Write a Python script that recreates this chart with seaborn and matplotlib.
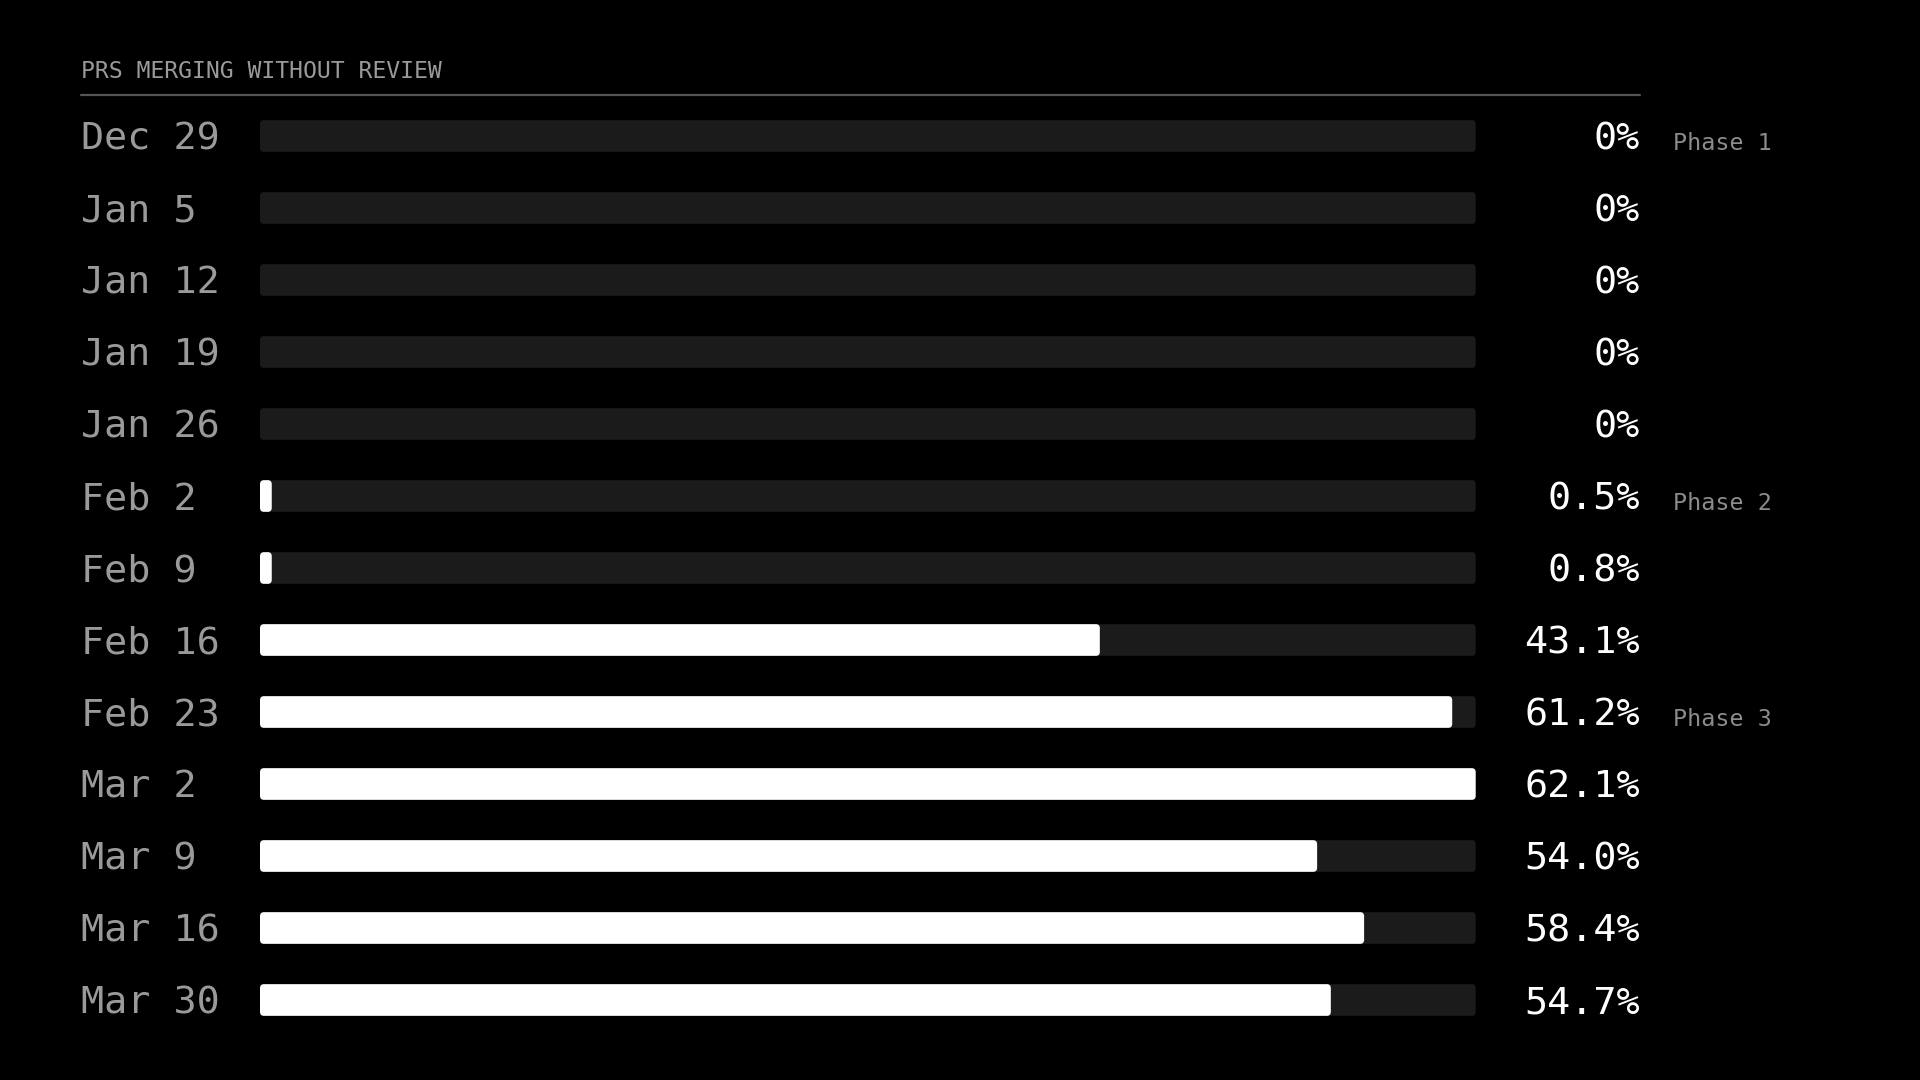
import matplotlib
matplotlib.use("Agg")
import matplotlib.pyplot as plt
import matplotlib.transforms as mtransforms
from matplotlib.patches import FancyBboxPatch
import seaborn as sns
import pandas as pd

# Data
weeks = ["Dec 29", "Jan 5", "Jan 12", "Jan 19", "Jan 26", "Feb 2", "Feb 9",
         "Feb 16", "Feb 23", "Mar 2", "Mar 9", "Mar 16", "Mar 30"]
# printed percentages
value_labels = ["0%", "0%", "0%", "0%", "0%", "0.5%", "0.8%",
                "43.1%", "61.2%", "62.1%", "54.0%", "58.4%", "54.7%"]
# bar lengths as drawn (tiny bars have a minimum width, Mar 16 is drawn shorter)
bar_len = [0, 0, 0, 0, 0, 0.6, 0.6, 42.9, 60.9, 62.1, 54.0, 56.4, 54.7]
scale_max = 62.1
phase_names = ["Phase 1", "Phase 2", "Phase 3"]
phase_weeks = ["Dec 29", "Feb 2", "Feb 23"]

BG = "#000000"
TRACK = "#1b1b1b"
LABEL_GREY = "#9a9a9a"
PHASE_GREY = "#8c8c8c"
MONO = ["DejaVu Sans Mono"]


def round_bars(ax, patches, radius_px=4):
    # swap seaborn's rectangles for rounded ones at the same coordinates
    fig = ax.figure
    fig.canvas.draw()
    bbox = ax.get_window_extent()
    x0, x1 = ax.get_xlim()
    y0, y1 = ax.get_ylim()
    px_per_x = bbox.width / (x1 - x0)
    px_per_y = bbox.height / abs(y1 - y0)
    r = radius_px / px_per_x
    aspect = px_per_x / px_per_y
    for p in patches:
        w = p.get_width()
        p.remove()
        if w <= 0:
            continue
        fb = FancyBboxPatch((p.get_x(), p.get_y()), w, p.get_height(),
                            boxstyle=f"round,pad=0,rounding_size={min(r, w / 2)}",
                            mutation_aspect=aspect, facecolor=p.get_facecolor(),
                            edgecolor="none", linewidth=0)
        ax.add_patch(fb)


def main():
    sns.set_theme(style="white", rc={"axes.facecolor": BG, "figure.facecolor": BG})
    plt.rcParams["font.family"] = MONO

    df = pd.DataFrame({"week": weeks, "bar": bar_len})
    df["track"] = scale_max

    fig = plt.figure(figsize=(19.2, 10.8), dpi=100)
    fig.patch.set_facecolor(BG)
    ax = fig.add_axes([260 / 1920, 1 - 1036 / 1080, (1475.7 - 260) / 1920, 936 / 1080])

    sns.barplot(data=df, x="track", y="week", color=TRACK, width=0.44,
                orient="h", ax=ax, saturation=1)
    n_track = len(ax.patches)
    sns.barplot(data=df, x="bar", y="week", color="white", width=0.44,
                orient="h", ax=ax, saturation=1)

    ax.set_xlim(0, scale_max)
    ax.set_ylim(len(weeks) - 0.5, -0.5)
    ax.set_axis_off()

    patches = list(ax.patches)
    round_bars(ax, patches[:n_track])
    round_bars(ax, patches[n_track:])

    trans = mtransforms.blended_transform_factory(fig.transFigure, ax.transData)
    for i, (w, lab) in enumerate(zip(weeks, value_labels)):
        fig.text(81 / 1920, i, w, transform=trans, ha="left", va="center_baseline",
                 color=LABEL_GREY, fontsize=27.6, family=MONO)
        fig.text(1640 / 1920, i, lab, transform=trans, ha="right", va="center_baseline",
                 color="white", fontsize=27.6, family=MONO)
    for name, wk in zip(phase_names, phase_weeks):
        i = weeks.index(wk)
        fig.text(1673 / 1920, i + 0.07, name, transform=trans, ha="left",
                 va="center_baseline", color=PHASE_GREY, fontsize=16.8, family=MONO)

    # header and rule
    fig.text(81 / 1920, 1 - 71 / 1080, "PRS MERGING WITHOUT REVIEW", ha="left",
             va="center", color=LABEL_GREY, fontsize=16.7, family=MONO)
    fig.add_artist(plt.Line2D([81 / 1920, 1640 / 1920], [1 - 94.5 / 1080] * 2,
                              transform=fig.transFigure, color="#555555", linewidth=1.6))

    fig.savefig("out.png", dpi=100, facecolor=BG)


if __name__ == "__main__":
    main()
